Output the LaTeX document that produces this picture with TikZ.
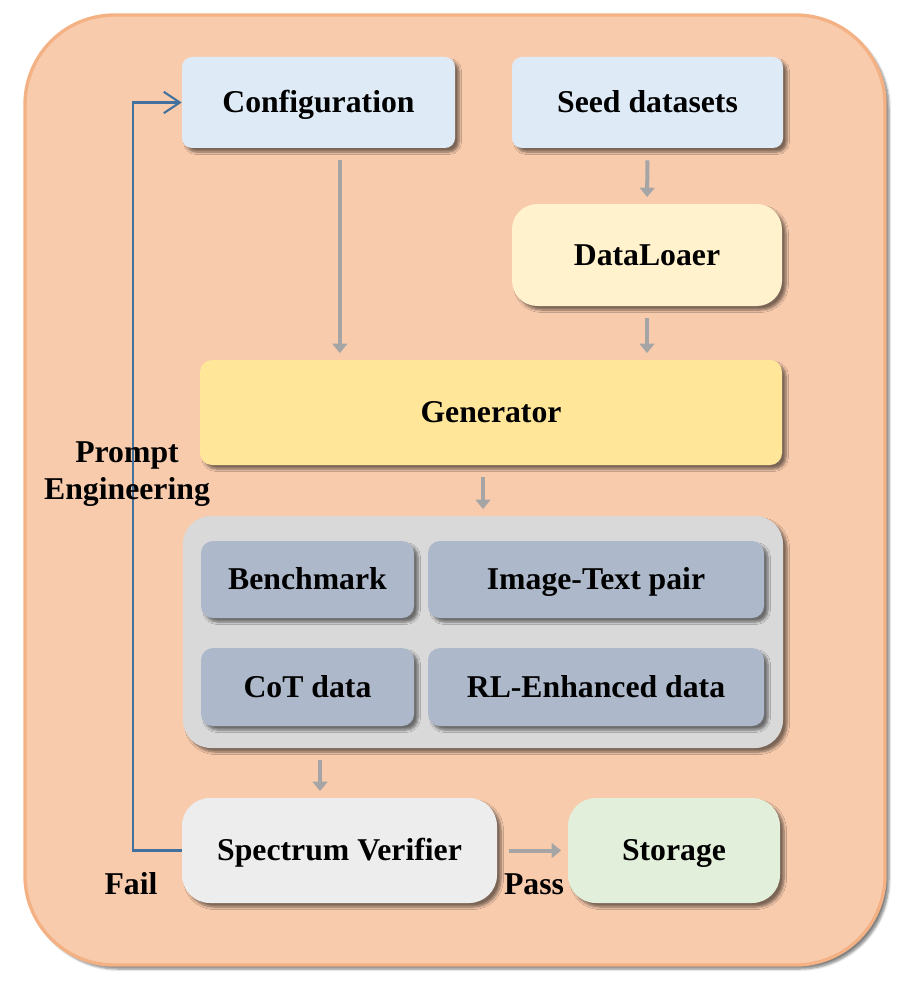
\documentclass[tikz,border=0pt]{standalone}
\usepackage{fontspec}
\setmainfont{Liberation Serif}
\usepackage{tikz}
\usetikzlibrary{arrows.meta,shadows,shadows.blur}

\definecolor{outerfill}{RGB}{248,203,173}
\definecolor{outerline}{RGB}{244,177,131}
\definecolor{lightblue}{RGB}{222,235,247}
\definecolor{lightyellow}{RGB}{255,242,204}
\definecolor{midyellow}{RGB}{255,230,153}
\definecolor{groupgrey}{RGB}{217,217,217}
\definecolor{slategrey}{RGB}{173,185,202}
\definecolor{verigrey}{RGB}{237,237,237}
\definecolor{lightgreen}{RGB}{226,239,218}
\definecolor{arrowgrey}{RGB}{165,165,165}
\definecolor{loopblue}{RGB}{65,113,156}

\begin{document}
\begin{tikzpicture}[x=0.75pt,y=0.75pt,yscale=-1,xscale=1,
  font=\fontsize{23.8}{28}\selectfont\bfseries,
  shade/.style={blur shadow={shadow xshift=3pt,shadow yshift=-3pt,shadow blur steps=6,shadow opacity=50}},
  box/.style={shade,rounded corners=#1,inner sep=0pt,align=center,text height=15.7pt,text depth=0pt},
  flow/.style={draw=arrowgrey,line width=3pt,-{Triangle[length=7pt,width=11pt]},shorten <=9pt,shorten >=5pt},
  loop/.style={draw=loopblue,line width=1.6pt,-{Straight Barb[length=12pt,width=16pt]}}]
\useasboundingbox (0,0) rectangle (906,988);

%Outer panel
\draw [shade,rounded corners=67pt,fill=outerfill,draw=outerline,line width=2.5pt] (25,15) rectangle (885,965);

%Top row
\node (config) [box=7.5pt,fill=lightblue,minimum width=204.75pt,minimum height=68.25pt] at (318.5,102.5) {Configuration};
\node (seed) [box=7.5pt,fill=lightblue,minimum width=203.25pt,minimum height=68.25pt] at (647.5,102.5) {Seed datasets};
\node (loader) [box=19pt,fill=lightyellow,minimum width=202.5pt,minimum height=76.5pt] at (647,255) {DataLoaer};

%Generator
\node (gen) [box=9pt,fill=midyellow,minimum width=436.5pt,minimum height=78.75pt] at (491,412.5) {Generator};

%Data group
\node (group) [box=21pt,fill=groupgrey,minimum width=450pt,minimum height=174pt] at (483,632) {};
\node (bench) [box=9pt,fill=slategrey,minimum width=159.75pt,minimum height=57.75pt] at (307.5,579.5) {Benchmark};
\node (pair) [box=9pt,fill=slategrey,minimum width=252pt,minimum height=57.75pt] at (596,579.5) {Image-Text pair};
\node (cot) [box=9pt,fill=slategrey,minimum width=159.75pt,minimum height=58.5pt] at (307.5,687) {CoT data};
\node (rl) [box=9pt,fill=slategrey,minimum width=252pt,minimum height=58.5pt] at (596,687) {RL-Enhanced data};

%Bottom row
\node (verifier) [box=21pt,fill=verigrey,minimum width=236.25pt,minimum height=78.75pt] at (339.5,850.5) {Spectrum Verifier};
\node (storage) [box=21pt,fill=lightgreen,minimum width=159pt,minimum height=78.75pt] at (674,850.5) {Storage};

%Arrows
\draw [flow] ([xshift=16pt]config.south) -- ([xshift=16pt]config.south |- gen.north);
\draw [flow] (seed) -- (loader);
\draw [flow] (loader.south) -- (loader.south |- gen.north);
\draw [flow] (group.north |- gen.south) -- (group.north);
\draw [flow] ([xshift=-14.6pt]verifier.north |- group.south) -- ([xshift=-14.6pt]verifier.north);
\draw [flow] (verifier) -- (storage);
\draw [loop] (verifier.west) -- ++(-49,0) |- (config.west);

% Text Node
\node (prompt) [align=center,inner sep=0pt] at (127,474) {Prompt\\Engineering};
% Text Node
\node (fail) [inner sep=0pt] at (131,884) {Fail};
% Text Node
\node (pass) [inner sep=0pt] at (534,884) {Pass};

\end{tikzpicture}
\end{document}
